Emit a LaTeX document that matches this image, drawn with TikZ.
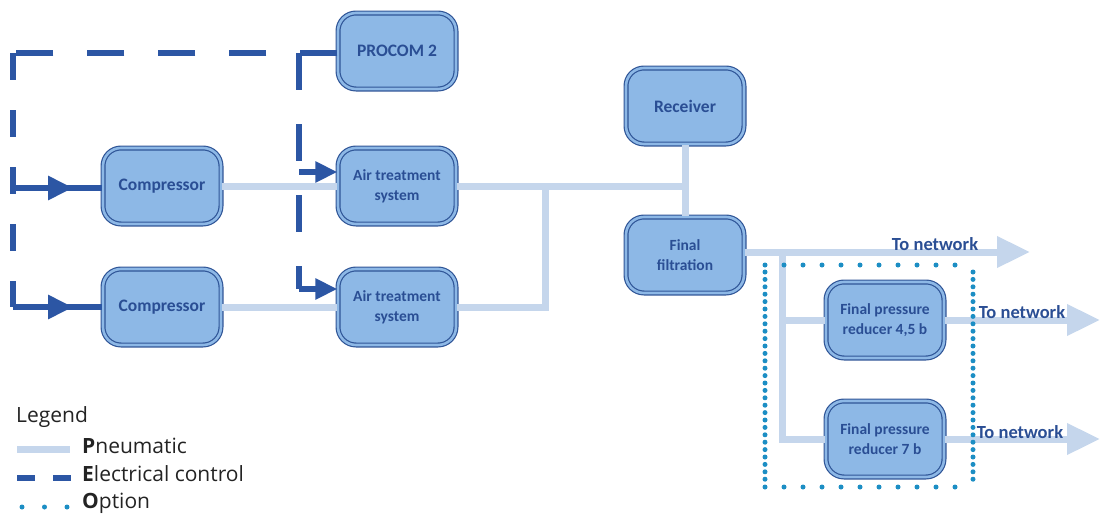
\documentclass[tikz,border=0pt]{standalone}
\usepackage{fontspec}
\setmainfont{Carlito}
\newfontfamily\legfont{Open Sans}
\usetikzlibrary{arrows.meta,decorations.markings}
\definecolor{boxfill}{RGB}{141,184,230}
\definecolor{boxline}{RGB}{47,85,151}
\definecolor{txt}{RGB}{42,78,148}
\definecolor{pneu}{RGB}{197,214,236}
\definecolor{elec}{RGB}{44,86,164}
\definecolor{opt}{RGB}{28,142,196}
\definecolor{legtxt}{RGB}{35,35,35}
\begin{document}
\begin{tikzpicture}[x=1pt,y=-1pt,
  unit/.style={rounded corners=18pt, draw=boxline, double=boxfill, double distance=2.6pt,
    line width=1.2pt, fill=boxfill, minimum width=118pt, minimum height=76pt,
    align=center, text=txt, font=\bfseries\fontsize{17.5}{19}\selectfont, inner sep=2pt},
  twoline/.style={font=\bfseries\fontsize{15.5}{20}\selectfont},
  pn/.style={draw=pneu, line width=7pt},
  pnarrow/.style={pn, -{Triangle[length=33pt,width=30pt]}},
  elecline/.style={draw=elec, line width=6pt},
  elecd/.style={elecline, dash pattern=on 37pt off 34pt},
  elecarrow/.style={elecline, -{Triangle[length=22pt,width=20pt]}},
  elecmid/.style={elecline, postaction={decorate, decoration={markings,
    mark=at position 60pt with {\arrow{Triangle[length=25pt,width=23pt]}}}}},
  optd/.style={draw=opt, line width=5pt, line cap=round},
  netlabel/.style={text=txt, font=\bfseries\fontsize{18.5}{20}\selectfont, inner sep=0pt},
  legtext/.style={anchor=west, text=legtxt, font=\legfont\fontsize{21}{23}\selectfont, inner sep=0pt}
]
\useasboundingbox (0,0) rectangle (1101,517);

% units
\node[unit] (procom) at (397,51) {PROCOM 2};
\node[unit] (comp1) at (162,186) {Compressor};
\node[unit, twoline] (air1) at (397,186) {Air treatment\\system};
\node[unit] (comp2) at (162,307) {Compressor};
\node[unit, twoline] (air2) at (397,307) {Air treatment\\system};
\node[unit] (recv) at (685,106) {Receiver};
\node[unit, twoline] (ff) at (685,255) {Final\\filtration};
\node[unit, twoline] (r45) at (885,320) {Final pressure\\reducer 4,5 b};
\node[unit, twoline] (r7) at (885,439) {Final pressure\\reducer 7 b};

% pneumatic
\coordinate (j1) at (685,186);
\coordinate (j2) at (545,186);
\coordinate (n1) at (1030,252);
\coordinate (b0) at (782,252);
\coordinate (n2) at (1100,320);
\coordinate (n3) at (1100,439);
\draw[pn] (comp1) -- (air1);
\draw[pn] (comp2) -- (air2);
\draw[pn] (air1) -- (j1);
\draw[pn] (recv) -- (ff);
\draw[pn] (j2) |- (air2.east);
\draw[pnarrow] (ff.east |- n1) -- (n1);
\draw[pn] (b0) |- (r7.west);
\draw[pn] (b0 |- r45) -- (r45.west);
\draw[pnarrow] (r45) -- (n2);
\draw[pnarrow] (r7) -- (n3);

\node[netlabel] (t1) at (935,244) {To network};
\node[netlabel] (t2) at (1022,312) {To network};
\node[netlabel] (t3) at (1020,432) {To network};

% electrical control
\coordinate (etl) at (13,53);
\coordinate (etr) at (299,53);
\coordinate (ec1) at (13,188);
\coordinate (ec2) at (13,307);
\coordinate (ea1) at (299,172);
\coordinate (ea2) at (299,289);
\draw[elecd] (procom.west |- etl) -- (etl);
\draw[elecline, dash pattern=on 27pt off 30pt] (etl) -- (ec2);
\draw[elecd] (etr) -- (ea2);
\draw[elecarrow] (ea1) -- (air1.west |- ea1);
\draw[elecarrow] (ea2) -- (air2.west |- ea2);
\draw[elecmid] (ec1) -- (comp1.west |- ec1);
\draw[elecmid] (ec2) -- (comp2.west |- ec2);

% option box
\draw[optd, dash pattern=on 0pt off 19pt] (765,265) -- (973,265) (765,487) -- (973,487);
\draw[optd, dash pattern=on 0pt off 7.4pt] (765,272) -- (765,480) (973,272) -- (973,480);

% legend
\node[legtext] (leg) at (16,417) {Legend};
\draw[pn] (17,449) -- (70,449);
\node[legtext] (lp) at (82,446) {\textbf{P}neumatic};
\draw[elecline, dash pattern=on 18pt off 18pt] (17,478) -- (71,478);
\node[legtext] (le) at (82,474) {\textbf{E}lectrical control};
\draw[optd, dash pattern=on 0pt off 22.5pt] (22,507) -- (70,507);
\node[legtext] (lo) at (82,503) {\textbf{O}ption};
\end{tikzpicture}
\end{document}
